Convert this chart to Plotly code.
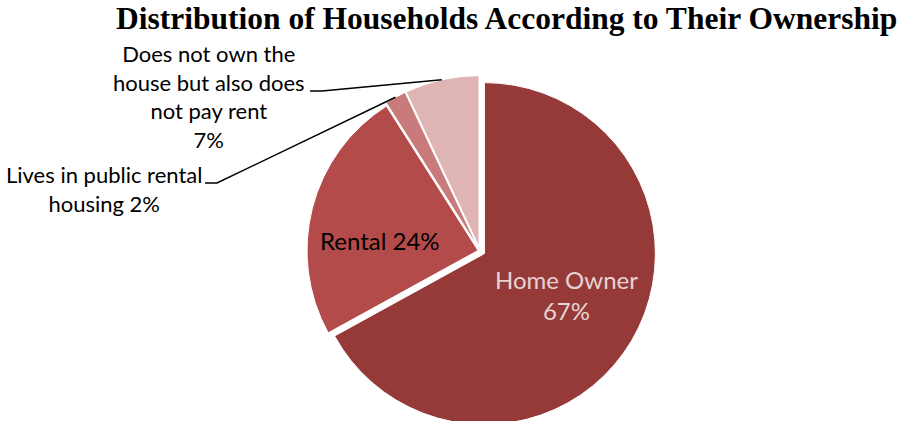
import math
import plotly.graph_objects as go

categories = ["Home Owner", "Rental", "Lives in public rental housing",
              "Does not own the house but also does not pay rent"]
values = [67, 24, 2, 7]
label_texts = ["Home Owner<br>67%", "Rental 24%",
               "Lives in public rental<br>housing 2%",
               "Does not own the<br>house but also does<br>not pay rent<br>7%"]
colors = ["#953A39", "#B24B49", "#C87B7A", "#DEB4B4"]
pulls = [0.03, 0.012, 0.026, 0.026]

W, H = 905, 421            # visible window
HF = 450                   # figure height (bottom of the pie is cropped by the window)
cx, cy = 480, 251          # pie centre in pixels (from top-left)
R = 171                    # pie radius in pixels
max_pull = max(pulls)
half = R * (1 + max_pull)

def px(x):
    return x / W

def py(y):
    return 1 - y / HF

fig = go.Figure(go.Pie(
    labels=categories,
    values=values,
    sort=False,
    direction="clockwise",
    rotation=0,
    pull=pulls,
    marker=dict(colors=colors, line=dict(color="white", width=1)),
    textinfo="none",
    hoverinfo="label+percent",
    showlegend=False,
    domain=dict(x=[px(cx - half), px(cx + half)], y=[py(cy + half), py(cy - half)]),
))

font_family = "Lato"

annotations = [
    dict(text="<b>Distribution of Households According to Their Ownership</b>",
         x=px(506), y=py(18), xanchor="center", yanchor="middle",
         font=dict(family="Liberation Serif", size=31.5, color="black"),
         showarrow=False),
    dict(text=label_texts[0], x=px(566), y=py(295), xanchor="center", yanchor="middle",
         font=dict(family=font_family, size=24, color="#E8D3D3"), showarrow=False),
    dict(text=label_texts[1], x=px(380), y=py(240), xanchor="center", yanchor="middle",
         font=dict(family=font_family, size=24, color="black"), showarrow=False),
    dict(text=label_texts[2], x=px(104), y=py(189), xanchor="center", yanchor="middle",
         font=dict(family=font_family, size=22, color="black"), showarrow=False),
    dict(text=label_texts[3], x=px(209), y=py(96), xanchor="center", yanchor="middle",
         font=dict(family=font_family, size=22, color="black"), showarrow=False),
]

# leader lines: end point on each small slice's outer edge at its mid angle
total = sum(values)
cum = 0
mids = []
for v in values:
    mids.append((cum + v / 2) / total * 2 * math.pi)
    cum += v

def edge_point(i):
    a = mids[i]
    r = R * (1 + pulls[i])
    return cx + r * math.sin(a), cy - r * math.cos(a)

starts = {2: (205, 183), 3: (310, 91)}
shapes = []
for i, (sx, sy) in starts.items():
    ex, ey = edge_point(i)
    path = f"M {px(sx)},{py(sy)} L {px(sx + 12)},{py(sy)} L {px(ex)},{py(ey)}"
    shapes.append(dict(type="path", xref="paper", yref="paper", path=path,
                       line=dict(color="black", width=1.5)))

fig.update_layout(
    width=W, height=HF,
    margin=dict(l=0, r=0, t=0, b=0),
    paper_bgcolor="white", plot_bgcolor="white",
    annotations=annotations,
    shapes=shapes,
)

fig.write_html("out.html",
               config={"displayModeBar": False},
               post_script="document.body.style.margin='0';document.body.style.overflow='hidden';")
